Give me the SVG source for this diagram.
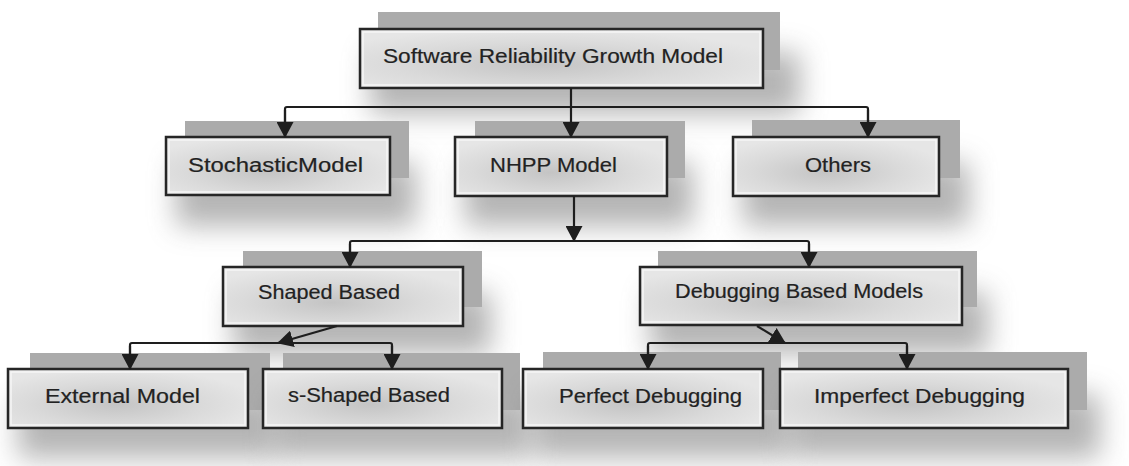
<svg xmlns="http://www.w3.org/2000/svg" width="1129" height="466" viewBox="0 0 1129 466">
<defs>
<style>
.blur{fill:#6a6a6a;opacity:0.5;filter:url(#sb)}
.flat{fill:#ababab}
.box{fill:url(#bg);stroke:#262626;stroke-width:2.5}
.inner{fill:none;stroke:#f6f6f6;stroke-width:1.5}
.lbl{font-family:"Liberation Sans",Arial,sans-serif;font-size:20px;fill:#222;stroke:#222;stroke-width:0.2}
.ln{fill:none;stroke:#1e1e1e;stroke-width:2.2}
</style>
<filter id="sb" x="-30%" y="-60%" width="160%" height="220%"><feGaussianBlur stdDeviation="14"/></filter>
<radialGradient id="bg" cx="0.45" cy="0.6" r="0.6">
<stop offset="0" stop-color="#c4c4c4"/>
<stop offset="0.6" stop-color="#dadada"/>
<stop offset="1" stop-color="#e6e6e6"/>
</radialGradient>
<marker id="ah" markerWidth="17" markerHeight="17" refX="15" refY="8.5" orient="auto" markerUnits="userSpaceOnUse">
<path d="M0,0 L16,8.5 L0,17 Z" fill="#1e1e1e"/>
</marker>
</defs>
<rect width="1129" height="466" fill="#ffffff"/>

<g id="root">
<rect class="blur" x="370" y="52" width="430" height="62"/>
<rect class="flat" x="378" y="12" width="402" height="58"/>
<rect class="box" x="360" y="29" width="403" height="59"/>
<rect class="inner" x="363" y="32" width="397" height="53"/>
<text class="lbl" x="383" y="63" textLength="340" lengthAdjust="spacingAndGlyphs">Software Reliability Growth Model</text>
</g>

<g id="stochastic">
<rect class="blur" x="176" y="162" width="240" height="64"/>
<rect class="flat" x="185" y="121" width="224" height="57"/>
<rect class="box" x="166" y="137" width="224" height="58"/>
<rect class="inner" x="169" y="140" width="218" height="52"/>
<text class="lbl" x="188" y="172" textLength="175" lengthAdjust="spacingAndGlyphs">StochasticModel</text>
</g>

<g id="nhpp">
<rect class="blur" x="465" y="162" width="228" height="64"/>
<rect class="flat" x="475" y="121" width="210" height="57"/>
<rect class="box" x="455" y="137" width="212" height="59"/>
<rect class="inner" x="458" y="140" width="206" height="53"/>
<text class="lbl" x="490" y="172" textLength="127" lengthAdjust="spacingAndGlyphs">NHPP Model</text>
</g>

<g id="others">
<rect class="blur" x="743" y="162" width="226" height="64"/>
<rect class="flat" x="752" y="120" width="208" height="58"/>
<rect class="box" x="733" y="137" width="206" height="59"/>
<rect class="inner" x="736" y="140" width="200" height="53"/>
<text class="lbl" x="805" y="172" textLength="66" lengthAdjust="spacingAndGlyphs">Others</text>
</g>

<g id="shaped">
<rect class="blur" x="233" y="292" width="258" height="62"/>
<rect class="flat" x="243" y="251" width="239" height="56"/>
<rect class="box" x="223" y="267" width="240" height="59"/>
<rect class="inner" x="226" y="270" width="234" height="53"/>
<text class="lbl" x="258" y="299" textLength="142" lengthAdjust="spacingAndGlyphs">Shaped Based</text>
</g>

<g id="debugging">
<rect class="blur" x="650" y="292" width="338" height="62"/>
<rect class="flat" x="658" y="251" width="319" height="56"/>
<rect class="box" x="640" y="267" width="322" height="58"/>
<rect class="inner" x="643" y="270" width="316" height="52"/>
<text class="lbl" x="675" y="298" textLength="248" lengthAdjust="spacingAndGlyphs">Debugging Based Models</text>
</g>

<g id="external">
<rect class="blur" x="18" y="394" width="258" height="64"/>
<rect class="flat" x="30" y="353" width="240" height="57"/>
<rect class="box" x="8" y="369" width="240" height="59"/>
<rect class="inner" x="11" y="372" width="234" height="53"/>
<text class="lbl" x="45" y="403" textLength="155" lengthAdjust="spacingAndGlyphs">External Model</text>
</g>

<g id="sshaped">
<rect class="blur" x="273" y="394" width="258" height="64"/>
<rect class="flat" x="283" y="353" width="237" height="57"/>
<rect class="box" x="263" y="369" width="239" height="59"/>
<rect class="inner" x="266" y="372" width="233" height="53"/>
<text class="lbl" x="288" y="402" textLength="162" lengthAdjust="spacingAndGlyphs">s-Shaped Based</text>
</g>

<g id="perfect">
<rect class="blur" x="533" y="394" width="258" height="64"/>
<rect class="flat" x="543" y="352" width="238" height="58"/>
<rect class="box" x="523" y="369" width="240" height="59"/>
<rect class="inner" x="526" y="372" width="234" height="53"/>
<text class="lbl" x="559" y="403" textLength="183" lengthAdjust="spacingAndGlyphs">Perfect Debugging</text>
</g>

<g id="imperfect">
<rect class="blur" x="790" y="394" width="310" height="64"/>
<rect class="flat" x="798" y="352" width="289" height="58"/>
<rect class="box" x="780" y="369" width="288" height="59"/>
<rect class="inner" x="783" y="372" width="282" height="53"/>
<text class="lbl" x="814" y="403" textLength="211" lengthAdjust="spacingAndGlyphs">Imperfect Debugging</text>
</g>

<g id="connectors">
<path class="ln" d="M571,88 V137" marker-end="url(#ah)"/>
<path class="ln" d="M285,137 V109 Q285,107 287,107 H866 Q868,107 868,109 V137" />
<path class="ln" d="M285,110 V137" marker-end="url(#ah)"/>
<path class="ln" d="M868,110 V137" marker-end="url(#ah)"/>
<path class="ln" d="M574,196 V241" marker-end="url(#ah)"/>
<path class="ln" d="M350,267 V243 Q350,241 352,241 H807 Q809,241 809,243 V267"/>
<path class="ln" d="M350,244 V267" marker-end="url(#ah)"/>
<path class="ln" d="M809,244 V267" marker-end="url(#ah)"/>
<path class="ln" d="M337,326 L278,343" marker-end="url(#ah)"/>
<path class="ln" d="M130,369 V345 Q130,343 132,343 H390 Q392,343 392,345 V369"/>
<path class="ln" d="M130,346 V369" marker-end="url(#ah)"/>
<path class="ln" d="M392,346 V369" marker-end="url(#ah)"/>
<path class="ln" d="M757,326 L785,343" marker-end="url(#ah)"/>
<path class="ln" d="M648,369 V345 Q648,343 650,343 H905 Q907,343 907,345 V369"/>
<path class="ln" d="M648,346 V369" marker-end="url(#ah)"/>
<path class="ln" d="M907,346 V369" marker-end="url(#ah)"/>
</g>
</svg>
